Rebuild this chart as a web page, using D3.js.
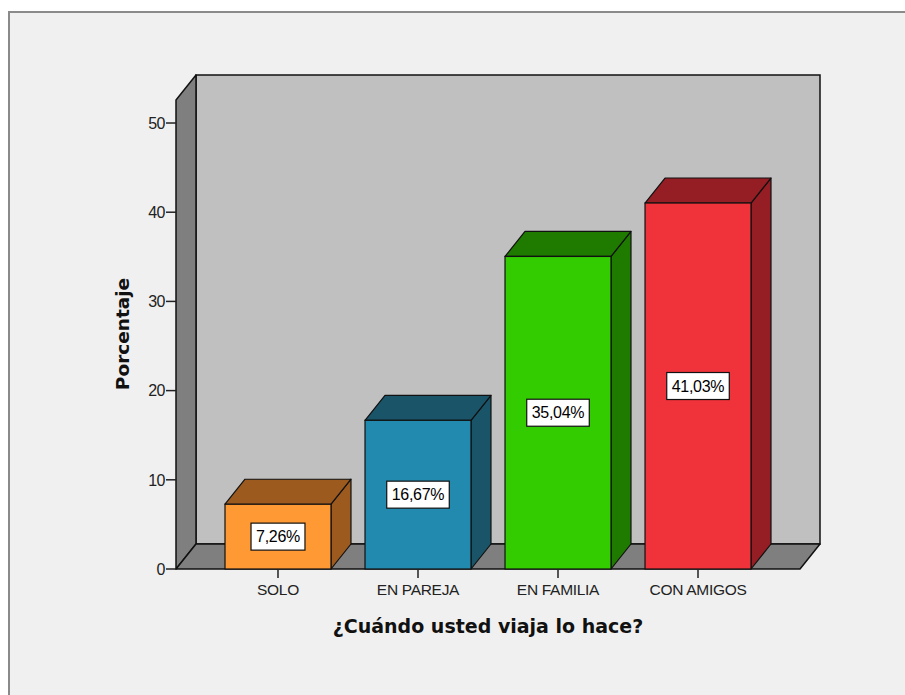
<!DOCTYPE html>
<html>
<head>
<meta charset="utf-8">
<script src="https://cdn.jsdelivr.net/npm/d3@7"></script>
<style>
  body { margin: 0; background: #fff; }
  svg { display: block; }
</style>
</head>
<body>
<svg width="905" height="695"></svg>
<script>
// data
var categories = ["SOLO", "EN PAREJA", "EN FAMILIA", "CON AMIGOS"];
var values = [7.26, 16.67, 35.04, 41.03];
var frontColors = ["#ff9933", "#238aaf", "#33cc00", "#f0323a"];
var darkColors = ["#9c5a1f", "#1a5469", "#1f7a00", "#951e24"];
var yTicks = [0, 10, 20, 30, 40, 50];
var xTitle = "¿Cuándo usted viaja lo hace?";
var yTitle = "Porcentaje";

var svg = d3.select("svg");

// depth offset of the 3d look
var DX = 20, DY = 25;
var plotLeft = 176, plotRight = 800, plotBase = 569, plotTop = 100;

var x = d3.scaleBand()
    .domain(categories)
    .range([plotLeft, plotRight])
    .paddingInner(0.243)
    .paddingOuter(0.35);

var y = d3.scaleLinear()
    .domain([0, 52.58])
    .range([plotBase, plotTop]);

var pct = d3.formatLocale({ decimal: ",", thousands: ".", grouping: [3], currency: ["", ""] }).format(".2f");

// frame
svg.append("rect")
    .attr("x", 9).attr("y", 12)
    .attr("width", 920).attr("height", 720)
    .attr("fill", "#f0f0f0")
    .attr("stroke", "#8a8a8a")
    .attr("stroke-width", 2);

var stroke = "#111";

// back wall
svg.append("rect")
    .attr("x", plotLeft + DX).attr("y", plotTop - DY)
    .attr("width", plotRight - plotLeft).attr("height", plotBase - plotTop)
    .attr("fill", "#c0c0c0")
    .attr("stroke", stroke).attr("stroke-width", 1.5);

// left wall
svg.append("polygon")
    .attr("points", [[plotLeft, plotBase], [plotLeft, plotTop], [plotLeft + DX, plotTop - DY], [plotLeft + DX, plotBase - DY]].join(" "))
    .attr("fill", "#7f7f7f")
    .attr("stroke", stroke).attr("stroke-width", 1.5)
    .attr("stroke-linejoin", "round");

// floor
svg.append("polygon")
    .attr("points", [[plotLeft, plotBase], [plotRight, plotBase], [plotRight + DX, plotBase - DY], [plotLeft + DX, plotBase - DY]].join(" "))
    .attr("fill", "#7f7f7f")
    .attr("stroke", stroke).attr("stroke-width", 1.5)
    .attr("stroke-linejoin", "round");

// y axis ticks
var yAxis = svg.append("g").attr("class", "y-axis");
yAxis.selectAll("line")
    .data(yTicks)
    .enter().append("line")
    .attr("x1", plotLeft - 10).attr("x2", plotLeft)
    .attr("y1", function(d) { return y(d); })
    .attr("y2", function(d) { return y(d); })
    .attr("stroke", "#222").attr("stroke-width", 1.5);
yAxis.selectAll("text")
    .data(yTicks)
    .enter().append("text")
    .attr("x", plotLeft - 11)
    .attr("y", function(d) { return y(d); })
    .attr("dy", "0.36em")
    .attr("text-anchor", "end")
    .attr("font-family", "Liberation Sans, Arial, sans-serif")
    .attr("font-size", 16)
    .attr("letter-spacing", -0.5)
    .attr("fill", "#222")
    .text(function(d) { return d; });

// bars
var bars = svg.append("g").attr("class", "bars")
    .selectAll("g")
    .data(values)
    .enter().append("g");

bars.append("polygon") // side
    .attr("points", function(d, i) {
      var x0 = x(categories[i]) + x.bandwidth(), yv = y(d);
      return [[x0, yv], [x0 + DX, yv - DY], [x0 + DX, plotBase - DY], [x0, plotBase]].join(" ");
    })
    .attr("fill", function(d, i) { return darkColors[i]; })
    .attr("stroke", stroke).attr("stroke-width", 1.2)
    .attr("stroke-linejoin", "round");

bars.append("polygon") // top
    .attr("points", function(d, i) {
      var x0 = x(categories[i]), w = x.bandwidth(), yv = y(d);
      return [[x0, yv], [x0 + DX, yv - DY], [x0 + w + DX, yv - DY], [x0 + w, yv]].join(" ");
    })
    .attr("fill", function(d, i) { return darkColors[i]; })
    .attr("stroke", stroke).attr("stroke-width", 1.2)
    .attr("stroke-linejoin", "round");

bars.append("rect") // front
    .attr("x", function(d, i) { return x(categories[i]); })
    .attr("y", function(d) { return y(d); })
    .attr("width", x.bandwidth())
    .attr("height", function(d) { return plotBase - y(d); })
    .attr("fill", function(d, i) { return frontColors[i]; })
    .attr("stroke", stroke).attr("stroke-width", 1.2);

// value labels
var lbl = bars.append("g")
    .attr("transform", function(d, i) {
      return "translate(" + (x(categories[i]) + x.bandwidth() / 2) + "," + ((y(d) + plotBase) / 2) + ")";
    });
lbl.append("text")
    .attr("text-anchor", "middle")
    .attr("dy", "0.36em")
    .attr("font-family", "Liberation Sans, Arial, sans-serif")
    .attr("font-size", 16)
    .attr("letter-spacing", -0.3)
    .attr("fill", "#000")
    .text(function(d) { return pct(d) + "%"; });
lbl.insert("rect", "text")
    .each(function() {
      var t = d3.select(this.parentNode).select("text").node().getBBox();
      d3.select(this)
        .attr("x", -t.width / 2 - 5)
        .attr("y", -13.5)
        .attr("width", t.width + 10)
        .attr("height", 27);
    })
    .attr("fill", "#fff")
    .attr("stroke", "#111").attr("stroke-width", 1.2);

// x axis ticks
var xAxis = svg.append("g").attr("class", "x-axis");
xAxis.selectAll("line")
    .data(categories)
    .enter().append("line")
    .attr("x1", function(d) { return x(d) + x.bandwidth() / 2; })
    .attr("x2", function(d) { return x(d) + x.bandwidth() / 2; })
    .attr("y1", plotBase).attr("y2", plotBase + 9)
    .attr("stroke", "#222").attr("stroke-width", 1.5);
xAxis.selectAll("text")
    .data(categories)
    .enter().append("text")
    .attr("x", function(d) { return x(d) + x.bandwidth() / 2; })
    .attr("y", 595)
    .attr("text-anchor", "middle")
    .attr("font-family", "Liberation Sans, Arial, sans-serif")
    .attr("font-size", 15.5)
    .attr("letter-spacing", -0.3)
    .attr("fill", "#222")
    .text(function(d) { return d; });

// axis titles
svg.append("text")
    .attr("x", (plotLeft + plotRight) / 2)
    .attr("y", 633)
    .attr("text-anchor", "middle")
    .attr("font-family", "DejaVu Sans, Verdana, sans-serif")
    .attr("font-weight", "bold")
    .attr("font-size", 19)
    .attr("fill", "#111")
    .text(xTitle);

svg.append("text")
    .attr("transform", "translate(129," + 334 + ") rotate(-90)")
    .attr("text-anchor", "middle")
    .attr("font-family", "DejaVu Sans, Verdana, sans-serif")
    .attr("font-weight", "bold")
    .attr("font-size", 18.5)
    .attr("fill", "#111")
    .text(yTitle);
</script>
</body>
</html>
